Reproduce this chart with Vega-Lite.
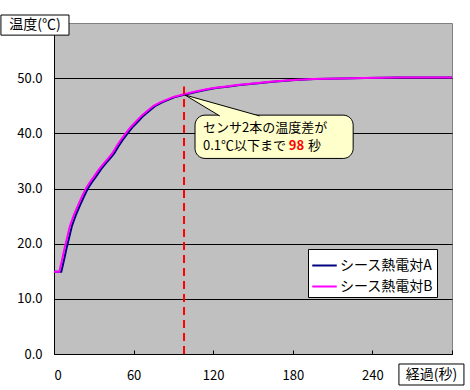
{
  "$schema": "https://vega.github.io/schema/vega-lite/v6.json",
  "width": 398,
  "height": 331,
  "autosize": "none",
  "padding": {"left": 54, "top": 23, "right": 18, "bottom": 36},
  "background": "white",
  "config": {
    "font": "Noto Sans CJK JP",
    "view": {"fill": "#C0C0C0", "stroke": "#808080", "strokeWidth": 1}
  },
  "datasets": {
    "series": [
      {"t": 0, "temp": 14.9, "sensor": "シース熱電対A"},
      {"t": 5.5, "temp": 14.9, "sensor": "シース熱電対A"},
      {"t": 7.5, "temp": 17.0, "sensor": "シース熱電対A"},
      {"t": 9.5, "temp": 19.2, "sensor": "シース熱電対A"},
      {"t": 10.5, "temp": 20.2, "sensor": "シース熱電対A"},
      {"t": 13.5, "temp": 23.2, "sensor": "シース熱電対A"},
      {"t": 16.5, "temp": 25.2, "sensor": "シース熱電対A"},
      {"t": 19.5, "temp": 26.9, "sensor": "シース熱電対A"},
      {"t": 22.5, "temp": 28.5, "sensor": "シース熱電対A"},
      {"t": 25.5, "temp": 30.0, "sensor": "シース熱電対A"},
      {"t": 28.5, "temp": 31.1, "sensor": "シース熱電対A"},
      {"t": 31.5, "temp": 32.1, "sensor": "シース熱電対A"},
      {"t": 35.5, "temp": 33.5, "sensor": "シース熱電対A"},
      {"t": 39.5, "temp": 34.7, "sensor": "シース熱電対A"},
      {"t": 42.5, "temp": 35.5, "sensor": "シース熱電対A"},
      {"t": 45.5, "temp": 36.4, "sensor": "シース熱電対A"},
      {"t": 48.5, "temp": 37.6, "sensor": "シース熱電対A"},
      {"t": 51.5, "temp": 38.7, "sensor": "シース熱電対A"},
      {"t": 55.5, "temp": 40.0, "sensor": "シース熱電対A"},
      {"t": 59.5, "temp": 41.2, "sensor": "シース熱電対A"},
      {"t": 63.5, "temp": 42.2, "sensor": "シース熱電対A"},
      {"t": 67.5, "temp": 43.2, "sensor": "シース熱電対A"},
      {"t": 71.5, "temp": 44.0, "sensor": "シース熱電対A"},
      {"t": 76.5, "temp": 45.0, "sensor": "シース熱電対A"},
      {"t": 81.5, "temp": 45.6, "sensor": "シース熱電対A"},
      {"t": 86.5, "temp": 46.1, "sensor": "シース熱電対A"},
      {"t": 91.5, "temp": 46.6, "sensor": "シース熱電対A"},
      {"t": 96.5, "temp": 46.9, "sensor": "シース熱電対A"},
      {"t": 100, "temp": 47.1, "sensor": "シース熱電対A"},
      {"t": 107, "temp": 47.5, "sensor": "シース熱電対A"},
      {"t": 114, "temp": 47.85, "sensor": "シース熱電対A"},
      {"t": 122, "temp": 48.2, "sensor": "シース熱電対A"},
      {"t": 132, "temp": 48.5, "sensor": "シース熱電対A"},
      {"t": 140, "temp": 48.75, "sensor": "シース熱電対A"},
      {"t": 152, "temp": 49.05, "sensor": "シース熱電対A"},
      {"t": 165, "temp": 49.35, "sensor": "シース熱電対A"},
      {"t": 182, "temp": 49.65, "sensor": "シース熱電対A"},
      {"t": 197, "temp": 49.85, "sensor": "シース熱電対A"},
      {"t": 217, "temp": 49.95, "sensor": "シース熱電対A"},
      {"t": 235, "temp": 50.05, "sensor": "シース熱電対A"},
      {"t": 260, "temp": 50.1, "sensor": "シース熱電対A"},
      {"t": 300, "temp": 50.1, "sensor": "シース熱電対A"},
      {"t": 0, "temp": 14.9, "sensor": "シース熱電対B"},
      {"t": 4, "temp": 14.9, "sensor": "シース熱電対B"},
      {"t": 6, "temp": 17.0, "sensor": "シース熱電対B"},
      {"t": 8, "temp": 19.2, "sensor": "シース熱電対B"},
      {"t": 9, "temp": 20.2, "sensor": "シース熱電対B"},
      {"t": 12, "temp": 23.2, "sensor": "シース熱電対B"},
      {"t": 15, "temp": 25.2, "sensor": "シース熱電対B"},
      {"t": 18, "temp": 26.9, "sensor": "シース熱電対B"},
      {"t": 21, "temp": 28.5, "sensor": "シース熱電対B"},
      {"t": 24, "temp": 30.0, "sensor": "シース熱電対B"},
      {"t": 27, "temp": 31.1, "sensor": "シース熱電対B"},
      {"t": 30, "temp": 32.1, "sensor": "シース熱電対B"},
      {"t": 34, "temp": 33.5, "sensor": "シース熱電対B"},
      {"t": 38, "temp": 34.7, "sensor": "シース熱電対B"},
      {"t": 41, "temp": 35.5, "sensor": "シース熱電対B"},
      {"t": 44, "temp": 36.4, "sensor": "シース熱電対B"},
      {"t": 47, "temp": 37.6, "sensor": "シース熱電対B"},
      {"t": 50, "temp": 38.7, "sensor": "シース熱電対B"},
      {"t": 54, "temp": 40.0, "sensor": "シース熱電対B"},
      {"t": 58, "temp": 41.2, "sensor": "シース熱電対B"},
      {"t": 62, "temp": 42.2, "sensor": "シース熱電対B"},
      {"t": 66, "temp": 43.2, "sensor": "シース熱電対B"},
      {"t": 70, "temp": 44.0, "sensor": "シース熱電対B"},
      {"t": 75, "temp": 45.0, "sensor": "シース熱電対B"},
      {"t": 80, "temp": 45.6, "sensor": "シース熱電対B"},
      {"t": 85, "temp": 46.1, "sensor": "シース熱電対B"},
      {"t": 90, "temp": 46.6, "sensor": "シース熱電対B"},
      {"t": 95, "temp": 46.9, "sensor": "シース熱電対B"},
      {"t": 98, "temp": 47.1, "sensor": "シース熱電対B"},
      {"t": 105, "temp": 47.5, "sensor": "シース熱電対B"},
      {"t": 112, "temp": 47.85, "sensor": "シース熱電対B"},
      {"t": 120, "temp": 48.2, "sensor": "シース熱電対B"},
      {"t": 130, "temp": 48.5, "sensor": "シース熱電対B"},
      {"t": 138, "temp": 48.75, "sensor": "シース熱電対B"},
      {"t": 150, "temp": 49.05, "sensor": "シース熱電対B"},
      {"t": 163, "temp": 49.35, "sensor": "シース熱電対B"},
      {"t": 180, "temp": 49.65, "sensor": "シース熱電対B"},
      {"t": 195, "temp": 49.85, "sensor": "シース熱電対B"},
      {"t": 215, "temp": 49.95, "sensor": "シース熱電対B"},
      {"t": 233, "temp": 50.05, "sensor": "シース熱電対B"},
      {"t": 260, "temp": 50.1, "sensor": "シース熱電対B"},
      {"t": 300, "temp": 50.1, "sensor": "シース熱電対B"}
    ],
    "pointer": [
      {"i": 0, "px": 125, "py": 43.15},
      {"i": 1, "px": 98.7, "py": 46.95},
      {"i": 2, "px": 155, "py": 43.15}
    ],
    "one": [{}]
  },
  "layer": [
    {
      "data": {"name": "series"},
      "mark": {"type": "line", "strokeWidth": 2},
      "encoding": {
        "x": {
          "field": "t", "type": "quantitative",
          "scale": {"domain": [0, 300], "nice": false},
          "axis": {
            "title": null, "values": [0, 60, 120, 180, 240, 300],
            "labelExpr": "datum.value == 300 ? '' : datum.label",
            "grid": false, "domainColor": "black", "tickColor": "black",
            "tickSize": -4, "labelPadding": 19, "labelFontSize": 13,
            "labelColor": "black", "labelFont": "Noto Sans CJK JP"
          }
        },
        "y": {
          "field": "temp", "type": "quantitative",
          "scale": {"domain": [0, 60], "nice": false},
          "axis": {
            "title": null, "values": [0, 10, 20, 30, 40, 50], "format": ".1f",
            "grid": true, "gridColor": "black", "gridOpacity": 1, "gridWidth": 1,
            "domainColor": "black", "ticks": false, "labelPadding": 12,
            "labelFontSize": 13, "labelColor": "black", "labelFont": "Noto Sans CJK JP"
          }
        },
        "color": {
          "field": "sensor", "type": "nominal",
          "scale": {"domain": ["シース熱電対A", "シース熱電対B"], "range": ["#000080", "#FF00FF"]},
          "legend": {
            "title": null, "orient": "none", "legendX": 254, "legendY": 226,
            "fillColor": "white", "strokeColor": "black", "padding": 3,
            "symbolType": "stroke", "symbolSize": 600, "symbolStrokeWidth": 2,
            "labelFontSize": 14, "labelColor": "black", "labelOffset": 2, "rowPadding": 0,
            "labelFont": "Noto Sans CJK JP"
          }
        }
      }
    },
    {
      "data": {"name": "one"},
      "mark": {"type": "rule", "color": "#FF0000", "strokeWidth": 2, "strokeDash": [8, 5]},
      "encoding": {
        "x": {"datum": 98, "type": "quantitative"},
        "y": {"datum": 0, "type": "quantitative"},
        "y2": {"datum": 48.5}
      }
    },
    {
      "data": {"name": "one"},
      "mark": {"type": "rect", "fill": "#FFFFCC", "stroke": "black", "strokeWidth": 1, "cornerRadius": 10},
      "encoding": {
        "x": {"datum": 106.3, "type": "quantitative"},
        "x2": {"datum": 225.5},
        "y": {"datum": 43.3, "type": "quantitative"},
        "y2": {"datum": 35.45}
      }
    },
    {
      "data": {"name": "pointer"},
      "mark": {"type": "line", "fill": "#FFFFCC", "stroke": "black", "strokeWidth": 1, "interpolate": "linear"},
      "encoding": {
        "x": {"field": "px", "type": "quantitative"},
        "y": {"field": "py", "type": "quantitative"},
        "order": {"field": "i"}
      }
    },
    {
      "data": {"name": "one"},
      "mark": {"type": "text", "text": "センサ2本の温度差が", "align": "left", "baseline": "middle", "fontSize": 13, "color": "black"},
      "encoding": {
        "x": {"datum": 112.3, "type": "quantitative"},
        "y": {"datum": 41.05, "type": "quantitative"}
      }
    },
    {
      "data": {"name": "one"},
      "mark": {"type": "text", "text": "0.1℃以下まで", "align": "left", "baseline": "middle", "fontSize": 13, "color": "black"},
      "encoding": {
        "x": {"datum": 112.3, "type": "quantitative"},
        "y": {"datum": 37.79, "type": "quantitative"}
      }
    },
    {
      "data": {"name": "one"},
      "mark": {"type": "text", "text": "98", "align": "left", "baseline": "middle", "fontSize": 13, "fontWeight": "bold", "color": "#FF0000"},
      "encoding": {
        "x": {"datum": 177, "type": "quantitative"},
        "y": {"datum": 37.79, "type": "quantitative"}
      }
    },
    {
      "data": {"name": "one"},
      "mark": {"type": "text", "text": "秒", "align": "left", "baseline": "middle", "fontSize": 13, "color": "black"},
      "encoding": {
        "x": {"datum": 191.5, "type": "quantitative"},
        "y": {"datum": 37.79, "type": "quantitative"}
      }
    },
    {
      "data": {"name": "one"},
      "mark": {"type": "rect", "fill": "white", "stroke": "black", "strokeWidth": 1},
      "encoding": {
        "x": {"datum": -40, "type": "quantitative"},
        "x2": {"datum": 11.3},
        "y": {"datum": 61.45, "type": "quantitative"},
        "y2": {"datum": 57.8}
      }
    },
    {
      "data": {"name": "one"},
      "mark": {"type": "text", "text": "温度(℃)", "align": "center", "baseline": "middle", "fontSize": 14, "color": "black"},
      "encoding": {
        "x": {"datum": -14.3, "type": "quantitative"},
        "y": {"datum": 59.6, "type": "quantitative"}
      }
    },
    {
      "data": {"name": "one"},
      "mark": {"type": "rect", "fill": "white", "stroke": "black", "strokeWidth": 1},
      "encoding": {
        "x": {"datum": 260, "type": "quantitative"},
        "x2": {"datum": 309},
        "y": {"datum": -1.81, "type": "quantitative"},
        "y2": {"datum": -5.62}
      }
    },
    {
      "data": {"name": "one"},
      "mark": {"type": "text", "text": "経過(秒)", "align": "center", "baseline": "middle", "fontSize": 14, "color": "black"},
      "encoding": {
        "x": {"datum": 284.5, "type": "quantitative"},
        "y": {"datum": -3.72, "type": "quantitative"}
      }
    }
  ]
}
